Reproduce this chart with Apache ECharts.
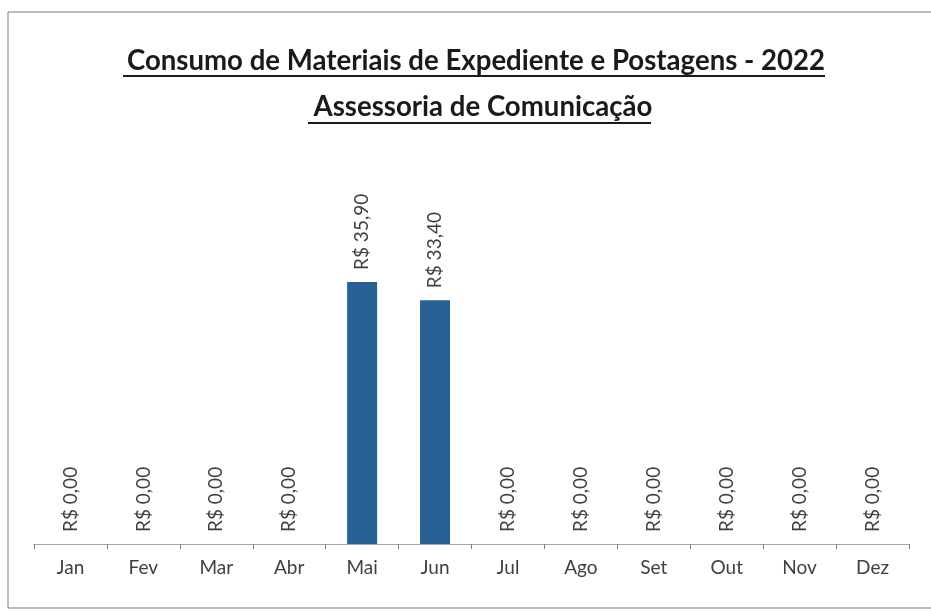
<!DOCTYPE html>
<html lang="pt-BR">
<head>
    <meta charset="UTF-8">
    <title>Consumo de Materiais de Expediente e Postagens - 2022</title>
    <script src="https://cdn.jsdelivr.net/npm/echarts@6/dist/echarts.min.js"></script>
    <style>
        body {
            margin: 0;
            background: #ffffff;
        }
        #chart {
            width: 931px;
            height: 613px;
        }
    </style>
</head>
<body>
    <div id="chart"></div>
    <script>
        // dados do gráfico
        const meses = ['Jan', 'Fev', 'Mar', 'Abr', 'Mai', 'Jun', 'Jul', 'Ago', 'Set', 'Out', 'Nov', 'Dez'];
        const valores = [0, 0, 0, 0, 35.90, 33.40, 0, 0, 0, 0, 0, 0];
        const titulo = 'Consumo de Materiais de Expediente e Postagens - 2022';
        const subtitulo = 'Assessoria de Comunicação';

        const fonte = 'Lato, "Open Sans", sans-serif';
        const myChart = echarts.init(document.getElementById('chart'));

        // formato R$ 0,00
        function moeda(v) {
            return 'R$ ' + v.toFixed(2).replace('.', ',');
        }

        const option = {
            backgroundColor: '#ffffff',
            title: [{
                text: titulo,
                left: 471,
                top: 42,
                textAlign: 'center',
                textStyle: { fontFamily: fonte, fontSize: 27.6, fontWeight: 'bold', color: '#1a1a1a' }
            }, {
                text: subtitulo,
                left: 478,
                top: 88,
                textAlign: 'center',
                textStyle: { fontFamily: fonte, fontSize: 27.6, fontWeight: 'bold', color: '#1a1a1a' }
            }],
            graphic: [
                // moldura
                { type: 'rect', shape: { x: 8, y: 12, width: 940, height: 596 },
                  style: { fill: 'none', stroke: '#7a7a7a', lineWidth: 1 } },
                // sublinhados dos títulos
                { type: 'line', shape: { x1: 123, y1: 76, x2: 825, y2: 76 },
                  style: { stroke: '#1a1a1a', lineWidth: 2 } },
                { type: 'line', shape: { x1: 308, y1: 123, x2: 651, y2: 123 },
                  style: { stroke: '#1a1a1a', lineWidth: 2 } }
            ],
            grid: {
                left: 34,
                right: 22,
                top: 179,
                bottom: 69
            },
            xAxis: {
                type: 'category',
                data: meses,
                axisLine: { lineStyle: { color: '#a6a6a6', width: 1 } },
                axisTick: { show: true, length: 5, lineStyle: { color: '#7f7f7f' } },
                axisLabel: {
                    color: '#404040',
                    fontFamily: fonte,
                    fontSize: 19,
                    margin: 14
                }
            },
            yAxis: {
                type: 'value',
                min: 0,
                max: 50,
                show: false,
                splitLine: { show: false }
            },
            series: [{
                type: 'bar',
                data: valores,
                barWidth: 30,
                itemStyle: { color: '#2a6194' },
                label: {
                    show: true,
                    position: 'top',
                    distance: 12,
                    rotate: 90,
                    align: 'left',
                    verticalAlign: 'middle',
                    color: '#404040',
                    fontFamily: fonte,
                    fontSize: 19,
                    formatter: p => moeda(p.value)
                }
            }]
        };

        myChart.setOption(option);
    </script>
</body>
</html>
